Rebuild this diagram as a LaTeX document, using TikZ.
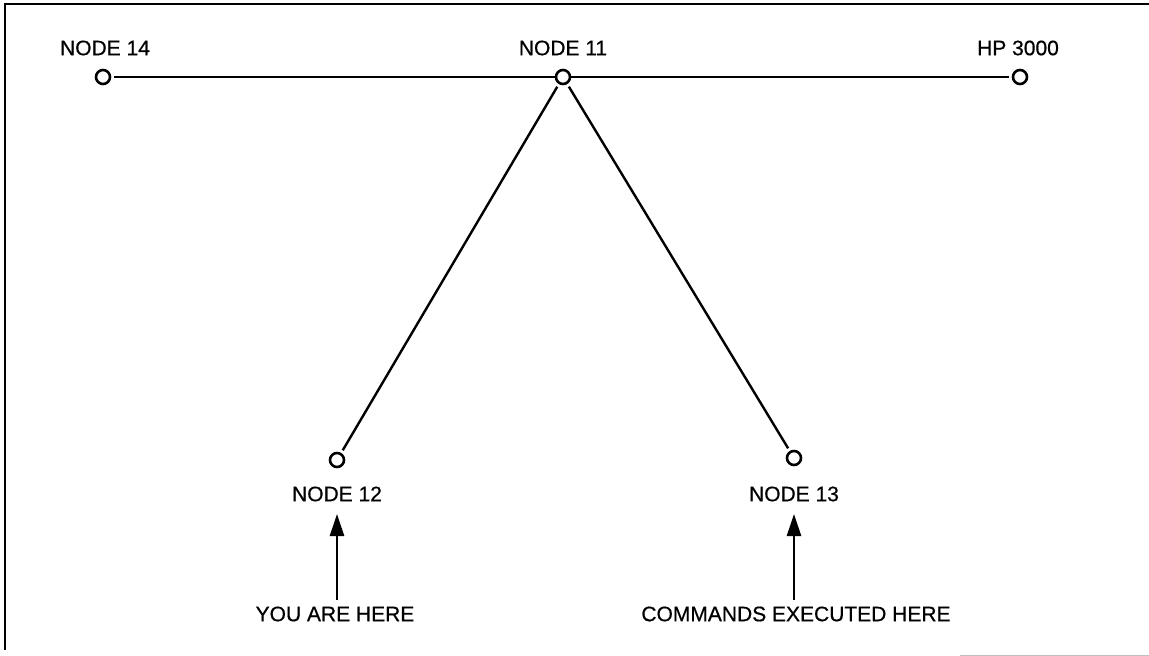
\documentclass[tikz,border=0pt]{standalone}
\usepackage{fontspec}
\setmainfont{Liberation Sans}
\newfontfamily\lblfont{Liberation Sans}[BoldFont=*,BoldFeatures={FakeBold=0.6}]
\usetikzlibrary{arrows.meta}
\begin{document}
\begin{tikzpicture}[x=1pt,y=-1pt,
  hub/.style={circle,draw,line width=2.6pt,minimum size=14pt,inner sep=0pt},
  link/.style={line width=2.4pt},
  lbl/.style={font=\lblfont\bfseries\fontsize{21}{25}\selectfont,inner sep=0pt},
  pointer/.style={line width=2.6pt,-{Triangle[length=22pt,width=14pt]}}]
\useasboundingbox (0,0) rectangle (1149,656);
% frame
\draw[line width=2.6pt] (5,650) -- (5,4) -- (1149,4);
\draw[black!25,line width=1pt] (960,655) -- (1149,655);
% network nodes
\node[hub] (n14) at (103,77) {};
\node[hub] (n11) at (563,77) {};
\node[hub] (hp)  at (1020,77) {};
\node[hub] (n12) at (337,460) {};
\node[hub] (n13) at (794,458) {};
% links
\draw[link,shorten <=3pt] (n14) -- (n11);
\draw[link,shorten >=3pt] (n11) -- (hp);
\draw[link,shorten <=3pt,shorten >=3pt] (n11) -- (n12);
\draw[link,shorten <=3pt,shorten >=3pt] (n11) -- (n13);
% labels
\node[lbl] (t14) at (105,48) {NODE 14};
\node[lbl] (t11) at (563,48) {NODE 11};
\node[lbl] (thp) at (1018,48) {HP 3000};
\node[lbl] (t12) at (337,494) {NODE 12};
\node[lbl] (t13) at (794,494) {NODE 13};
\node[lbl] (you) at (335,614) {YOU ARE HERE};
\node[lbl] (cmd) at (796,614) {COMMANDS EXECUTED HERE};
% pointers
\coordinate (a12) at (337,514);
\coordinate (a13) at (794,514);
\draw[pointer] (337,600) -- (a12);
\draw[pointer] (794,600) -- (a13);
\end{tikzpicture}
\end{document}
